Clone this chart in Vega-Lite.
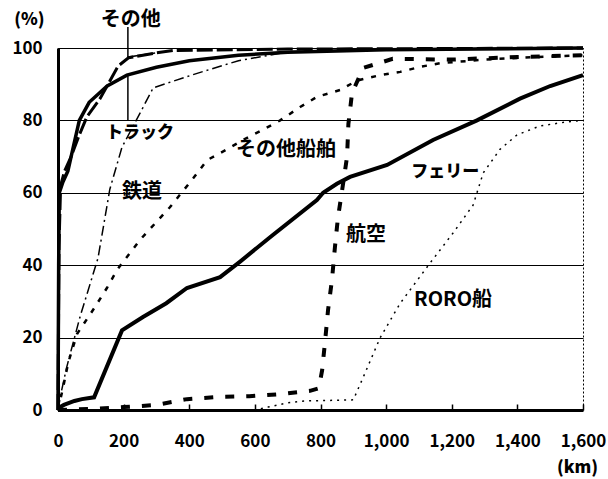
{
  "$schema": "https://vega.github.io/schema/vega-lite/v6.json",
  "width": 525,
  "height": 362,
  "autosize": "none",
  "padding": {"left": 58, "top": 48, "right": 25, "bottom": 69},
  "background": "white",
  "config": {
    "view": {"stroke": "black", "strokeWidth": 1, "strokeDash": [2, 2]},
    "font": "Noto Sans CJK JP"
  },
  "datasets": {
    "lines": [
      {"series": "トラック", "km": 0, "pct": 0},
      {"series": "トラック", "km": 2, "pct": 40},
      {"series": "トラック", "km": 4, "pct": 60},
      {"series": "トラック", "km": 15, "pct": 63},
      {"series": "トラック", "km": 30, "pct": 66},
      {"series": "トラック", "km": 45, "pct": 72},
      {"series": "トラック", "km": 65, "pct": 80},
      {"series": "トラック", "km": 95, "pct": 85},
      {"series": "トラック", "km": 150, "pct": 89.5},
      {"series": "トラック", "km": 210, "pct": 92.5},
      {"series": "トラック", "km": 300, "pct": 94.7},
      {"series": "トラック", "km": 400, "pct": 96.5},
      {"series": "トラック", "km": 550, "pct": 98},
      {"series": "トラック", "km": 700, "pct": 98.8},
      {"series": "トラック", "km": 1000, "pct": 99.5},
      {"series": "トラック", "km": 1600, "pct": 100},
      {"series": "その他", "km": 0, "pct": 0},
      {"series": "その他", "km": 3, "pct": 45},
      {"series": "その他", "km": 8, "pct": 62},
      {"series": "その他", "km": 20, "pct": 66},
      {"series": "その他", "km": 40, "pct": 70},
      {"series": "その他", "km": 65, "pct": 76},
      {"series": "その他", "km": 88, "pct": 81},
      {"series": "その他", "km": 128, "pct": 86},
      {"series": "その他", "km": 183, "pct": 95},
      {"series": "その他", "km": 215, "pct": 97.3},
      {"series": "その他", "km": 296, "pct": 98.6},
      {"series": "その他", "km": 350, "pct": 99.3},
      {"series": "その他", "km": 700, "pct": 99.7},
      {"series": "その他", "km": 1600, "pct": 100},
      {"series": "鉄道", "km": 0, "pct": 0},
      {"series": "鉄道", "km": 10, "pct": 5},
      {"series": "鉄道", "km": 27, "pct": 12},
      {"series": "鉄道", "km": 67, "pct": 25.7},
      {"series": "鉄道", "km": 122, "pct": 42},
      {"series": "鉄道", "km": 158, "pct": 61},
      {"series": "鉄道", "km": 195, "pct": 72.6},
      {"series": "鉄道", "km": 250, "pct": 82},
      {"series": "鉄道", "km": 290, "pct": 89},
      {"series": "鉄道", "km": 424, "pct": 93},
      {"series": "鉄道", "km": 550, "pct": 96.5},
      {"series": "鉄道", "km": 707, "pct": 99},
      {"series": "鉄道", "km": 1000, "pct": 99.7},
      {"series": "鉄道", "km": 1600, "pct": 100},
      {"series": "その他船舶", "km": 0, "pct": 0},
      {"series": "その他船舶", "km": 15, "pct": 6},
      {"series": "その他船舶", "km": 31, "pct": 13},
      {"series": "その他船舶", "km": 58, "pct": 21},
      {"series": "その他船舶", "km": 113, "pct": 28.5},
      {"series": "その他船舶", "km": 149, "pct": 33.7},
      {"series": "その他船舶", "km": 180, "pct": 38.7},
      {"series": "その他船舶", "km": 250, "pct": 47},
      {"series": "その他船舶", "km": 341, "pct": 56},
      {"series": "その他船舶", "km": 412, "pct": 64},
      {"series": "その他船舶", "km": 454, "pct": 69},
      {"series": "その他船舶", "km": 515, "pct": 72},
      {"series": "その他船舶", "km": 564, "pct": 74.6},
      {"series": "その他船舶", "km": 622, "pct": 77.3},
      {"series": "その他船舶", "km": 677, "pct": 80},
      {"series": "その他船舶", "km": 738, "pct": 83.7},
      {"series": "その他船舶", "km": 789, "pct": 86.5},
      {"series": "その他船舶", "km": 860, "pct": 88.4},
      {"series": "その他船舶", "km": 911, "pct": 91},
      {"series": "その他船舶", "km": 982, "pct": 92.5},
      {"series": "その他船舶", "km": 1043, "pct": 93.4},
      {"series": "その他船舶", "km": 1104, "pct": 94.8},
      {"series": "その他船舶", "km": 1165, "pct": 95.8},
      {"series": "その他船舶", "km": 1300, "pct": 96.8},
      {"series": "その他船舶", "km": 1450, "pct": 97.5},
      {"series": "その他船舶", "km": 1600, "pct": 98},
      {"series": "フェリー", "km": 0, "pct": 0.5},
      {"series": "フェリー", "km": 18, "pct": 1.4},
      {"series": "フェリー", "km": 50, "pct": 2.5},
      {"series": "フェリー", "km": 73, "pct": 3},
      {"series": "フェリー", "km": 110, "pct": 3.5},
      {"series": "フェリー", "km": 195, "pct": 22},
      {"series": "フェリー", "km": 259, "pct": 25.7},
      {"series": "フェリー", "km": 330, "pct": 29.5},
      {"series": "フェリー", "km": 393, "pct": 33.7},
      {"series": "フェリー", "km": 494, "pct": 36.7},
      {"series": "フェリー", "km": 555, "pct": 41},
      {"series": "フェリー", "km": 650, "pct": 48},
      {"series": "フェリー", "km": 789, "pct": 58},
      {"series": "フェリー", "km": 808, "pct": 60},
      {"series": "フェリー", "km": 850, "pct": 62.5},
      {"series": "フェリー", "km": 890, "pct": 64.4},
      {"series": "フェリー", "km": 1003, "pct": 67.7},
      {"series": "フェリー", "km": 1143, "pct": 74.6},
      {"series": "フェリー", "km": 1277, "pct": 80},
      {"series": "フェリー", "km": 1408, "pct": 86},
      {"series": "フェリー", "km": 1500, "pct": 89.5},
      {"series": "フェリー", "km": 1600, "pct": 92.5},
      {"series": "航空", "km": 0, "pct": 0},
      {"series": "航空", "km": 100, "pct": 0.3},
      {"series": "航空", "km": 200, "pct": 0.8},
      {"series": "航空", "km": 300, "pct": 1.4},
      {"series": "航空", "km": 393, "pct": 3},
      {"series": "航空", "km": 488, "pct": 3.6},
      {"series": "航空", "km": 583, "pct": 3.8},
      {"series": "航空", "km": 679, "pct": 4.4},
      {"series": "航空", "km": 768, "pct": 5.3},
      {"series": "航空", "km": 795, "pct": 6},
      {"series": "航空", "km": 805, "pct": 11},
      {"series": "航空", "km": 814, "pct": 19},
      {"series": "航空", "km": 823, "pct": 27.6},
      {"series": "航空", "km": 835, "pct": 36},
      {"series": "航空", "km": 844, "pct": 45},
      {"series": "航空", "km": 853, "pct": 53},
      {"series": "航空", "km": 868, "pct": 62},
      {"series": "航空", "km": 881, "pct": 70},
      {"series": "航空", "km": 885, "pct": 79},
      {"series": "航空", "km": 896, "pct": 87.5},
      {"series": "航空", "km": 930, "pct": 94.5},
      {"series": "航空", "km": 1020, "pct": 97},
      {"series": "航空", "km": 1200, "pct": 96.8},
      {"series": "航空", "km": 1400, "pct": 97.5},
      {"series": "航空", "km": 1600, "pct": 98},
      {"series": "RORO船", "km": 0, "pct": 0},
      {"series": "RORO船", "km": 600, "pct": 0},
      {"series": "RORO船", "km": 640, "pct": 0.8},
      {"series": "RORO船", "km": 700, "pct": 2},
      {"series": "RORO船", "km": 750, "pct": 2.5},
      {"series": "RORO船", "km": 900, "pct": 2.8},
      {"series": "RORO船", "km": 930, "pct": 9},
      {"series": "RORO船", "km": 982, "pct": 20},
      {"series": "RORO船", "km": 1043, "pct": 29.5},
      {"series": "RORO船", "km": 1134, "pct": 40.6},
      {"series": "RORO船", "km": 1204, "pct": 48.9},
      {"series": "RORO船", "km": 1265, "pct": 56.6},
      {"series": "RORO船", "km": 1296, "pct": 65.5},
      {"series": "RORO船", "km": 1347, "pct": 72},
      {"series": "RORO船", "km": 1399, "pct": 76},
      {"series": "RORO船", "km": 1470, "pct": 78.5},
      {"series": "RORO船", "km": 1552, "pct": 79.6},
      {"series": "RORO船", "km": 1600, "pct": 80}
    ],
    "labels": [
      {"label": "その他", "group": "kanji", "km": 222, "pct": 107.7},
      {"label": "トラック", "group": "kana", "km": 250, "pct": 76.5},
      {"label": "鉄道", "group": "kanji", "km": 256, "pct": 60.2},
      {"label": "その他船舶", "group": "kanji", "km": 695, "pct": 71.8},
      {"label": "フェリー", "group": "kana", "km": 1180, "pct": 65.7},
      {"label": "航空", "group": "kanji", "km": 939, "pct": 48.3},
      {"label": "RORO船", "group": "kanji", "km": 1204, "pct": 30.4}
    ],
    "leaders": [
      {"id": "a", "i": 1, "km": 213, "pct": 80},
      {"id": "a", "i": 2, "km": 213, "pct": 92.3},
      {"id": "b", "i": 1, "km": 213, "pct": 105.8},
      {"id": "b", "i": 2, "km": 213, "pct": 97.5},
      {"id": "b", "i": 3, "km": 296, "pct": 98.6}
    ]
  },
  "layer": [
    {
      "data": {"name": "lines"},
      "transform": [{"filter": "datum.series === 'トラック'"}],
      "mark": {"type": "line", "color": "black", "strokeWidth": 3.5},
      "encoding": {
        "x": {
          "field": "km", "type": "quantitative",
          "scale": {"domain": [0, 1600], "nice": false},
          "axis": {
            "values": [0, 200, 400, 600, 800, 1000, 1200, 1400, 1600],
            "format": ",d",
            "grid": false,
            "domainColor": "black", "domainWidth": 3,
            "tickColor": "black", "tickSize": -6, "tickWidth": 1.5,
            "labelFont": "Noto Sans CJK JP", "labelFontSize": 17, "labelFontWeight": "bold",
            "labelColor": "black", "labelPadding": 29, "labelFlush": false, "labelOverlap": false,
            "title": "(km)", "titleX": 519, "titleY": 57, "titleAlign": "center", "titleBaseline": "middle",
            "titleFont": "Noto Sans CJK JP", "titleFontSize": 17, "titleFontWeight": 900, "titleColor": "black"
          }
        },
        "y": {
          "field": "pct", "type": "quantitative",
          "scale": {"domain": [0, 100], "nice": false},
          "axis": {
            "values": [0, 20, 40, 60, 80, 100],
            "grid": true, "gridColor": "black", "gridWidth": 1, "gridOpacity": 1,
            "ticks": false,
            "domainColor": "black", "domainWidth": 3,
            "labelFont": "Noto Sans CJK JP", "labelFontSize": 17, "labelFontWeight": "bold",
            "labelColor": "black", "labelPadding": 16,
            "title": "(%)", "titleAngle": 0, "titleX": -29, "titleY": -29,
            "titleAlign": "center", "titleBaseline": "middle",
            "titleFont": "Noto Sans CJK JP", "titleFontSize": 17, "titleFontWeight": 900, "titleColor": "black"
          }
        }
      }
    },
    {
      "data": {"name": "lines"},
      "transform": [{"filter": "datum.series === 'その他'"}],
      "mark": {"type": "line", "color": "black", "strokeWidth": 3, "strokeDash": [16, 4]},
      "encoding": {
        "x": {"field": "km", "type": "quantitative"},
        "y": {"field": "pct", "type": "quantitative"}
      }
    },
    {
      "data": {"name": "lines"},
      "transform": [{"filter": "datum.series === '鉄道'"}],
      "mark": {"type": "line", "color": "black", "strokeWidth": 1.5, "strokeDash": [10, 4, 2, 4]},
      "encoding": {
        "x": {"field": "km", "type": "quantitative"},
        "y": {"field": "pct", "type": "quantitative"}
      }
    },
    {
      "data": {"name": "lines"},
      "transform": [{"filter": "datum.series === 'その他船舶'"}],
      "mark": {"type": "line", "color": "black", "strokeWidth": 2.5, "strokeDash": [5, 8]},
      "encoding": {
        "x": {"field": "km", "type": "quantitative"},
        "y": {"field": "pct", "type": "quantitative"}
      }
    },
    {
      "data": {"name": "lines"},
      "transform": [{"filter": "datum.series === 'フェリー'"}],
      "mark": {"type": "line", "color": "black", "strokeWidth": 4},
      "encoding": {
        "x": {"field": "km", "type": "quantitative"},
        "y": {"field": "pct", "type": "quantitative"}
      }
    },
    {
      "data": {"name": "lines"},
      "transform": [{"filter": "datum.series === '航空'"}],
      "mark": {"type": "line", "color": "black", "strokeWidth": 4, "strokeDash": [9, 12]},
      "encoding": {
        "x": {"field": "km", "type": "quantitative"},
        "y": {"field": "pct", "type": "quantitative"}
      }
    },
    {
      "data": {"name": "lines"},
      "transform": [{"filter": "datum.series === 'RORO船'"}],
      "mark": {"type": "line", "color": "black", "strokeWidth": 1.5, "strokeDash": [2, 5]},
      "encoding": {
        "x": {"field": "km", "type": "quantitative"},
        "y": {"field": "pct", "type": "quantitative"}
      }
    },
    {
      "data": {"name": "leaders"},
      "mark": {"type": "line", "color": "black", "strokeWidth": 1.5},
      "encoding": {
        "x": {"field": "km", "type": "quantitative"},
        "y": {"field": "pct", "type": "quantitative"},
        "detail": {"field": "id"},
        "order": {"field": "i"}
      }
    },
    {
      "data": {"name": "labels"},
      "transform": [{"filter": "datum.group === 'kanji'"}],
      "mark": {"type": "text", "font": "Noto Sans CJK JP", "fontSize": 20, "fontWeight": "bold", "color": "black", "baseline": "middle", "align": "center"},
      "encoding": {
        "x": {"field": "km", "type": "quantitative"},
        "y": {"field": "pct", "type": "quantitative"},
        "text": {"field": "label"}
      }
    },
    {
      "data": {"name": "labels"},
      "transform": [{"filter": "datum.group === 'kana'"}],
      "mark": {"type": "text", "font": "Noto Sans CJK JP", "fontSize": 17, "fontWeight": 900, "color": "black", "baseline": "middle", "align": "center"},
      "encoding": {
        "x": {"field": "km", "type": "quantitative"},
        "y": {"field": "pct", "type": "quantitative"},
        "text": {"field": "label"}
      }
    }
  ]
}
